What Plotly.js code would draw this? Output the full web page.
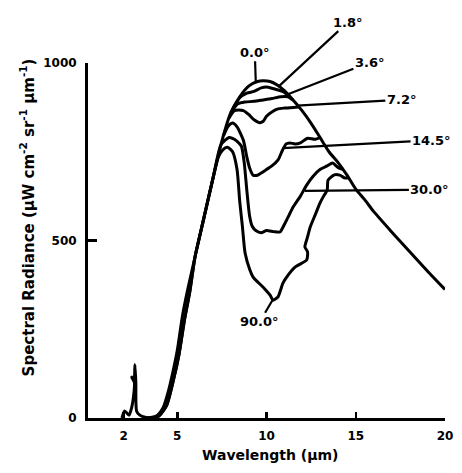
<!DOCTYPE html>
<html>
<head>
<meta charset="utf-8">
<script src="https://cdn.plot.ly/plotly-3.0.1.min.js"></script>
<style>html,body{margin:0;padding:0;background:#fff;}#chart{width:462px;height:473px;}</style>
</head>
<body>
<div id="chart"></div>
<script>
// Wavelength (µm) and spectral radiance (µW cm^-2 sr^-1 µm^-1) per viewing angle
const wl_00  = [3.3, 3.6, 3.9, 4.2, 4.5, 4.8, 5.0, 5.3, 5.6, 6.0, 6.5, 7.0, 7.5, 8.0, 8.5, 9.0, 9.5, 9.8, 10.2, 10.6, 11.0, 11.5, 12.0, 12.5, 13.0, 13.5, 14.0, 14.5, 15.0, 15.5, 16.0, 17.0, 18.0, 19.0, 20.0];
const rad_00 = [0, 2, 8, 28, 75, 140, 190, 290, 365, 455, 565, 675, 780, 860, 905, 935, 948, 950, 948, 938, 922, 895, 865, 830, 790, 750, 720, 685, 645, 615, 582, 525, 470, 415, 362];

const wl_18  = [8.1, 8.5, 8.9, 9.3, 9.7, 10.1, 10.5, 10.9, 11.3];
const rad_18 = [869, 902, 915, 920, 930, 932, 926, 920, 906];

const wl_36  = [8.0, 8.4, 8.8, 9.3, 9.8, 10.3, 10.8, 11.2, 11.5];
const rad_36 = [860, 885, 890, 892, 896, 900, 905, 905, 895];

const wl_72  = [7.9, 8.2, 8.7, 9.0, 9.3, 9.6, 9.8, 10.0, 10.3, 10.6, 11.0, 11.5, 11.8];
const rad_72 = [845, 866, 866, 855, 840, 832, 835, 850, 862, 870, 873, 875, 876];

const wl_145  = [7.6, 7.85, 8.1, 8.35, 8.7, 8.9, 9.05, 9.25, 9.5, 9.7, 10.0, 10.3, 10.65, 10.9, 11.1, 11.3, 11.6, 11.9, 12.3, 12.7, 13.0];
const rad_145 = [796, 822, 831, 820, 783, 735, 705, 684, 684, 690, 700, 710, 727, 755, 772, 775, 772, 775, 788, 785, 790];

const wl_300  = [3.5, 3.9, 4.4, 4.8, 5.1, 5.4, 5.7, 6.0, 6.5, 7.0, 7.45, 7.9, 8.2, 8.5, 8.6, 8.75, 8.9, 9.05, 9.2, 9.4, 9.7, 10.0, 10.4, 10.75, 11.0, 11.2, 11.5, 11.9, 12.25, 12.6, 13.0, 13.4, 13.7, 14.0, 14.3];
const rad_300 = [0, 4, 35, 110, 180, 275, 355, 455, 565, 675, 770, 790, 785, 772, 765, 720, 640, 570, 540, 528, 522, 528, 525, 524, 545, 565, 595, 625, 656, 680, 700, 710, 718, 706, 700];

const wl_900  = [1.9, 2.05, 2.3, 2.45, 2.55, 2.6, 2.45, 2.58, 2.63, 2.68, 2.72, 2.9, 3.2, 3.6, 4.0, 4.4, 4.8, 5.1, 5.4, 5.7, 6.0, 6.5, 7.0, 7.3, 7.55, 7.8, 8.1, 8.35, 8.5, 8.65, 8.8, 9.07, 9.25, 9.8, 10.2, 10.36, 10.64, 10.92, 11.1, 11.6, 12.25, 12.3, 12.15, 12.3, 12.45, 12.75, 13.0, 13.2, 13.4, 13.45, 13.8, 14.1, 14.4, 14.6];
const rad_900 = [0, 20, 8, 30, 60, 100, 115, 105, 150, 100, 20, 8, 2, 0, 6, 35, 110, 180, 275, 355, 455, 565, 675, 735, 755, 763, 750, 700, 610, 540, 465, 417, 397, 369, 346, 332, 341, 380, 395, 425, 445, 468, 482, 510, 538, 575, 606, 625, 642, 670, 685, 684, 676, 677];

const angleLabels = ["0.0°", "1.8°", "3.6°", "7.2°", "14.5°", "30.0°", "90.0°"];

const series = [
  [wl_00, rad_00], [wl_18, rad_18], [wl_36, rad_36], [wl_72, rad_72],
  [wl_145, rad_145], [wl_300, rad_300], [wl_900, rad_900]
];

const traces = series.map((s, i) => ({
  x: s[0], y: s[1], type: 'scatter', mode: 'lines', name: angleLabels[i],
  line: {color: '#000', width: 3, shape: 'spline', smoothing: 0.6},
  hoverinfo: 'x+y+name', cliponaxis: false
}));

// label leader lines: [head x, head y, ax px, ay px]
const leaders = [
  [9.4, 946, -1, -30],
  [10.7, 935, 69, -64],
  [11.2, 912, 82, -32],
  [11.7, 880, 105, -6],
  [10.9, 760, 149, -8],
  [12.15, 640, 125, -1],
  [10.35, 333, -13, 22]
];

const font = {family: 'DejaVu Sans, sans-serif', color: '#000', weight: 'bold'};

const annotations = leaders.map((l, i) => ({
  x: l[0], y: l[1], xref: 'x', yref: 'y', ax: l[2], ay: l[3],
  text: angleLabels[i], showarrow: true, arrowhead: 0, arrowwidth: 2.2,
  arrowcolor: '#000', standoff: 0, font: Object.assign({size: 13}, font)
}));

annotations.push({
  xref: 'paper', yref: 'paper', x: -0.17, y: 0.566, textangle: -90,
  showarrow: false, xanchor: 'center', yanchor: 'middle',
  text: 'Spectral Radiance (μW cm<sup>-2</sup> sr<sup>-1</sup> μm<sup>-1</sup>)',
  font: Object.assign({size: 15}, font)
});
annotations.push({
  xref: 'paper', yref: 'paper', x: 0.51, y: -0.103,
  showarrow: false, xanchor: 'center', yanchor: 'middle',
  text: 'Wavelength (μm)', font: Object.assign({size: 14}, font)
});

const layout = {
  width: 462, height: 473,
  margin: {l: 88, r: 17, t: 63, b: 55},
  paper_bgcolor: '#fff', plot_bgcolor: '#fff',
  showlegend: false,
  xaxis: {
    range: [0, 20], tickvals: [2, 5, 10, 15, 20], ticktext: ['2', '5', '10', '15', '20'],
    ticks: 'inside', ticklen: 6, tickwidth: 2.5, tickcolor: '#000',
    showline: true, linewidth: 3, linecolor: '#000', showgrid: false, zeroline: false,
    ticklabelstandoff: 5, tickfont: Object.assign({size: 12}, font)
  },
  yaxis: {
    range: [0, 1000], tickvals: [0, 500, 1000], ticktext: ['0', '500', '1000'],
    ticks: 'inside', ticklen: 9, tickwidth: 2.5, tickcolor: '#000',
    showline: true, linewidth: 3, linecolor: '#000', showgrid: false, zeroline: false,
    ticklabelstandoff: 6, tickfont: Object.assign({size: 12}, font)
  },
  annotations: annotations
};

Plotly.newPlot('chart', traces, layout, {displayModeBar: false, staticPlot: true});
</script>
</body>
</html>
